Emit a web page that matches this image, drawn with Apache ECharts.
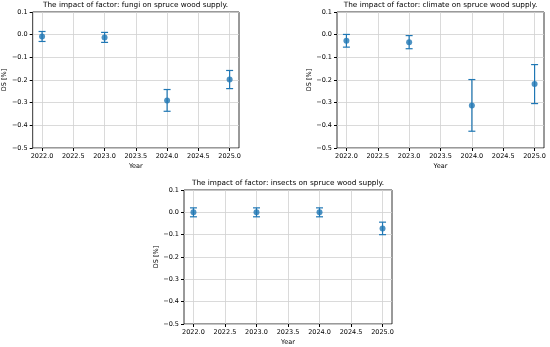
<!DOCTYPE html>
<html><head><meta charset="utf-8">
<script src="https://cdn.jsdelivr.net/npm/echarts@6/dist/echarts.min.js"></script>
<style>html,body{margin:0;padding:0;background:#fff}#c{width:550px;height:347px}</style>
</head><body><div id="c"></div>
<script>
const years = [2022, 2023, 2024, 2025];
const xTicks = [2022.0, 2022.5, 2023.0, 2023.5, 2024.0, 2024.5, 2025.0];
const yTicks = [0.1, 0.0, -0.1, -0.2, -0.3, -0.4, -0.5];
const factors = ['fungi', 'climate', 'insects'];
const fungiMean = [-0.008, -0.012, -0.290, -0.198];
const fungiErr = [0.022, 0.022, 0.048, 0.040];
const climateMean = [-0.027, -0.033, -0.312, -0.218];
const climateErr = [0.028, 0.029, 0.114, 0.086];
const insectsMean = [0.0, 0.0, 0.0, -0.072];
const insectsErr = [0.02, 0.02, 0.02, 0.028];

const means = [fungiMean, climateMean, insectsMean];
const errs = [fungiErr, climateErr, insectsErr];
const C0 = '#1f77b4';
const FONT = 'DejaVu Sans';
const grids = [
  {left: 32, top: 12, width: 207, height: 136},
  {left: 337, top: 12, width: 207, height: 136},
  {left: 184, top: 190, width: 208, height: 136}
];
const fmtY = v => (v < -1e-9 ? '\u2212' : '') + Math.abs(v).toFixed(1);
const option = {
  animation: false,
  backgroundColor: '#fff',
  title: grids.map((g, i) => ({
    text: 'The impact of factor: ' + factors[i] + ' on spruce wood supply.',
    left: g.left + g.width / 2, top: g.top - 10, textAlign: 'center', padding: 0,
    textStyle: {fontFamily: FONT, fontSize: 7.3, fontWeight: 'normal', color: '#000'}
  })),
  grid: grids.map(g => Object.assign({show: true, borderColor: '#000', borderWidth: 0.8, backgroundColor: 'transparent'}, g)),
  xAxis: grids.map((g, i) => ({
    type: 'value', gridIndex: i, min: 2021.85, max: 2025.15, interval: 0.5,
    name: 'Year', nameLocation: 'middle', nameGap: 15,
    nameTextStyle: {fontFamily: FONT, fontSize: 6.5, color: '#000'},
    axisLine: {show: false, onZero: false},
    axisTick: {show: true, length: 3, lineStyle: {color: '#000'}, customValues: xTicks},
    axisLabel: {fontFamily: FONT, fontSize: 6.5, color: '#000', margin: 5,
      customValues: xTicks, formatter: v => v.toFixed(1)},
    splitLine: {show: true, lineStyle: {color: '#d0d0d0', width: 0.8}}
  })),
  yAxis: grids.map((g, i) => ({
    type: 'value', gridIndex: i, min: -0.5, max: 0.1, interval: 0.1,
    name: 'DS [%]', nameLocation: 'middle', nameGap: 20, nameRotate: 90,
    nameTextStyle: {fontFamily: FONT, fontSize: 6.5, color: '#000'},
    axisLine: {show: false, onZero: false},
    axisTick: {show: true, length: 3, lineStyle: {color: '#000'}},
    axisLabel: {fontFamily: FONT, fontSize: 6.5, color: '#000', margin: 5, formatter: fmtY},
    splitLine: {show: true, lineStyle: {color: '#d0d0d0', width: 0.8}}
  })),
  series: []
};
means.forEach((m, i) => {
  const data = years.map((y, k) => [y, m[k], errs[i][k]]);
  option.series.push({
    type: 'custom', xAxisIndex: i, yAxisIndex: i, data: data, z: 3,
    renderItem: (params, api) => {
      const x = api.value(0), v = api.value(1), e = api.value(2);
      const top = api.coord([x, v + e]);
      const bot = api.coord([x, v - e]);
      const cw = 3.5;
      const st = {stroke: C0, lineWidth: 1.2};
      return {type: 'group', children: [
        {type: 'line', shape: {x1: top[0], y1: top[1], x2: bot[0], y2: bot[1]}, style: st},
        {type: 'line', shape: {x1: top[0] - cw, y1: top[1], x2: top[0] + cw, y2: top[1]}, style: st},
        {type: 'line', shape: {x1: bot[0] - cw, y1: bot[1], x2: bot[0] + cw, y2: bot[1]}, style: st}
      ]};
    }
  });
  option.series.push({
    type: 'scatter', xAxisIndex: i, yAxisIndex: i, z: 4,
    data: years.map((y, k) => [y, m[k]]),
    symbol: 'circle', symbolSize: 6, itemStyle: {color: C0}
  });
});
const chart = echarts.init(document.getElementById('c'), null, {renderer: 'canvas'});
chart.setOption(option);
</script></body></html>
